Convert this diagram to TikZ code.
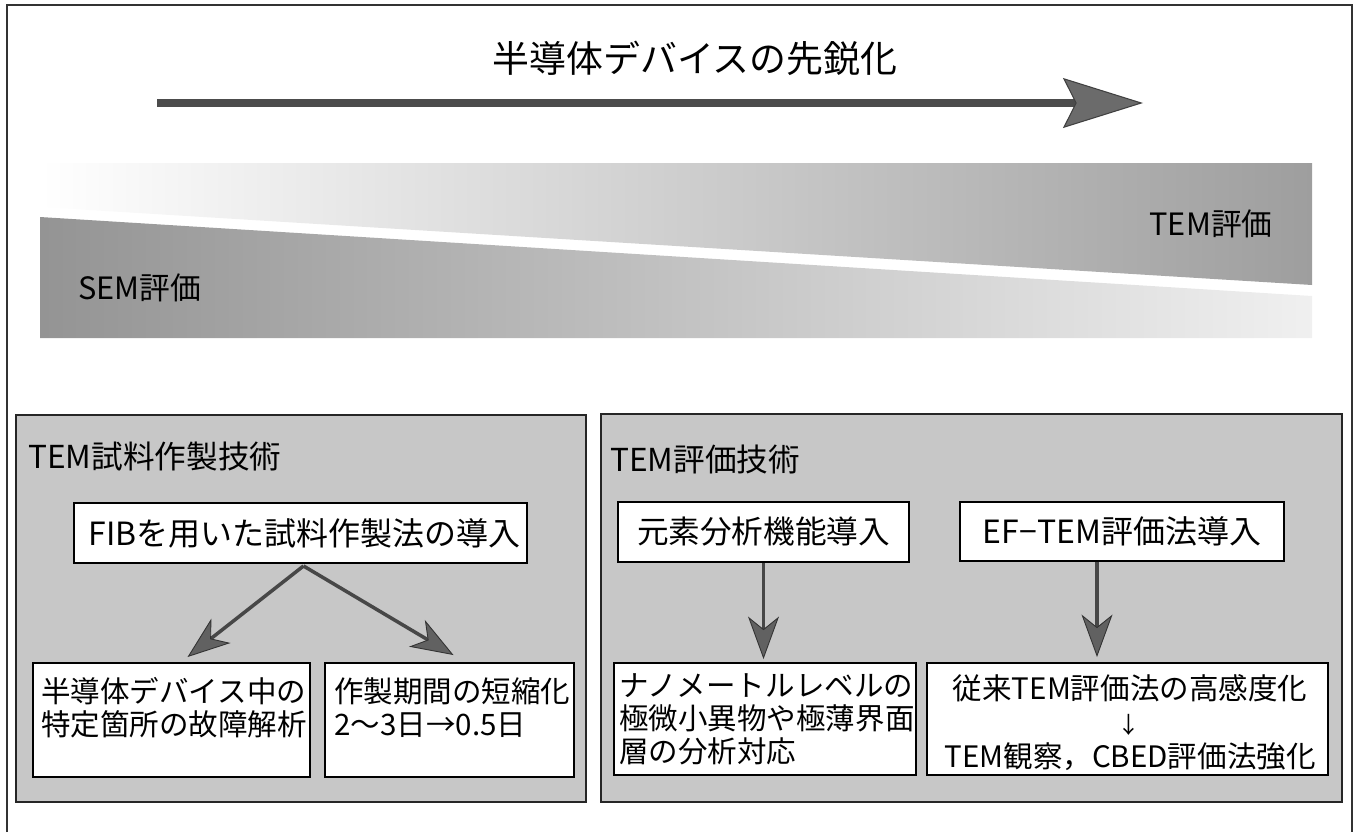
\documentclass[tikz,border=0pt]{standalone}
\usepackage{fontspec}
\setmainfont{Noto Sans CJK JP}
\usetikzlibrary{arrows.meta,fit,calc}
\begin{document}
\begin{tikzpicture}[x=0.02cm,y=-0.02cm,
  panel/.style={draw=black!85,line width=1.2pt,fill=black!22,inner sep=0pt},
  wbox/.style={draw=black,line width=1.1pt,fill=white,inner sep=0pt},
  boxtext/.style={inner sep=0pt,font=\fontsize{16.8}{18.8}\selectfont},
  headtext/.style={inner sep=0pt,font=\fontsize{18}{20}\selectfont},
  flow/.style={draw=black!72,line width=2pt,
    -{Stealth[length=0.85cm,width=0.62cm,inset=0.25cm,fill=black!62,color=black!80,line width=0.5pt]}},
  bigflow/.style={draw=black!70,line width=4.5pt,
    -{Stealth[length=1.6cm,width=1.0cm,inset=0.25cm,fill=black!58,color=black!75,line width=0.6pt]}}
]
\useasboundingbox (0,0) rectangle (1358,832);
% outer frame
\draw[line width=0.9pt,black!80] (7,832) -- (7,5) -- (1352,5) -- (1352,832);

% title and progress arrow
\node[inner sep=0pt,font=\fontsize{21}{24}\selectfont] (title) at (695,58) {半導体デバイスの先鋭化};
\coordinate (arS) at (157,103);
\coordinate (arE) at (1143,103);
\draw[bigflow] (arS) -- (arE);

% gradient bands
\shade[left color=white,right color=black!38] (40,163) -- (1312,163) -- (1312,285) -- (40,207) -- cycle;
\shade[left color=black!42,right color=black!6] (40,217) -- (1312,296) -- (1312,338) -- (40,338) -- cycle;
\node[inner sep=0pt,font=\fontsize{17.5}{20}\selectfont] (tem) at (1211,224) {TEM評価};
\node[inner sep=0pt,font=\fontsize{17.5}{20}\selectfont] (sem) at (140,288) {SEM評価};

% panels
\node[panel,fit={(16,415) (586,802)}] (pL) {};
\node[panel,fit={(601,414) (1342,802)}] (pR) {};
\node[headtext,anchor=west] (tL) at (28,457) {TEM試料作製技術};
\node[headtext,anchor=west] (tR) at (610,459) {TEM評価技術};

% left panel boxes
\node[wbox,fit={(74,503) (527,563)}] (fib) {};
\node[inner sep=0pt,font=\fontsize{18.2}{21}\selectfont] at ($(fib.center)+(4,0)$) {FIBを用いた試料作製法の導入};
\node[wbox,fit={(33,663) (310,777)}] (b1) {};
\node[boxtext,anchor=north west,align=left] at (41,677) {半導体デバイス中の\\特定箇所の故障解析};
\node[wbox,fit={(325,663) (574,777)}] (b2) {};
\node[boxtext,anchor=north west,align=left] at (334,677) {作製期間の短縮化\\2〜3日→0.5日};

% right panel boxes
\node[wbox,fit={(618,502) (909,562)}] (e1) {};
\node[inner sep=0pt,font=\fontsize{18}{21}\selectfont] at (e1.center) {元素分析機能導入};
\node[wbox,fit={(960,502) (1284,561)}] (e2) {};
\node[inner sep=0pt,font=\fontsize{18.2}{21}\selectfont] at (e2.center) {EF−TEM評価法導入};
\node[wbox,fit={(614,663) (916,775)}] (b3) {};
\node[boxtext,anchor=north west,align=left] at (619,673) {ナノメートルレベルの\\極微小異物や極薄界面\\層の分析対応};
\node[wbox,fit={(927,663) (1328,775)}] (b4) {};
\node[boxtext] (b4a) at (1130,688) {従来TEM評価法の高感度化};
\node[inner sep=0pt,font=\fontsize{13}{14}\selectfont] (b4b) at (1129,725) {↓};
\node[boxtext] (b4c) at (1130,757) {TEM観察，CBED評価法強化};

% connectors
\draw[flow] ($(fib.south)+(3,2)$) -- ($(b1.north)+(16,-5)$);
\draw[flow] ($(fib.south)+(3,2)$) -- ($(b2.north)+(4,-7)$);
\draw[flow] (e1.south) -- ($(e1.south |- b3.north)+(0,-3)$);
\draw[flow] ($(e2.south)+(-25,0)$) -- ($(e2.south |- b4.north)+(-25,-5)$);
\end{tikzpicture}
\end{document}
